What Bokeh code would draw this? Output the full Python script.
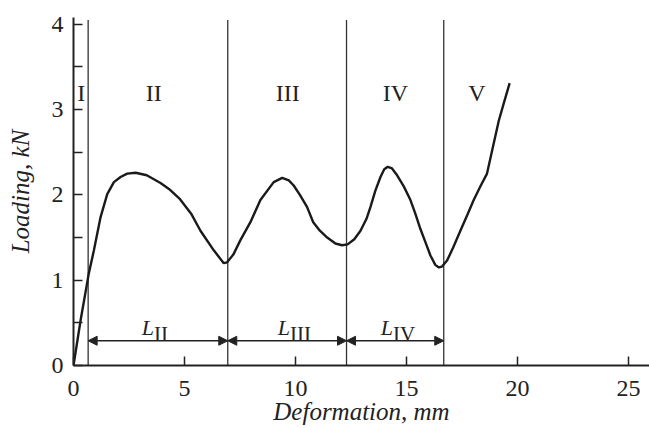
from bokeh.plotting import figure
from bokeh.models import Range1d, Label, Arrow, NormalHead, FixedTicker
from bokeh.embed import file_html
from bokeh.resources import INLINE

# Data
deformation = [0.0, 0.32, 0.69, 0.92, 1.22, 1.52, 1.82, 2.12, 2.42, 2.8, 3.3, 3.92,
               4.3, 4.8, 5.3, 5.72, 6.32, 6.77, 6.92, 7.2, 7.52, 7.97, 8.42, 9.02,
               9.4, 9.7, 9.92, 10.2, 10.52, 10.8, 11.1, 11.43, 11.8, 12.1, 12.35,
               12.65, 12.93, 13.2, 13.38, 13.6, 13.83, 14.0, 14.16, 14.35, 14.58,
               14.88, 15.18, 15.4, 15.63, 15.85, 16.08, 16.3, 16.46, 16.6, 16.83,
               17.1, 17.43, 17.75, 18.03, 18.35, 18.63, 18.86, 19.16, 19.38, 19.65]
loading = [0.0, 0.53, 1.08, 1.35, 1.74, 2.01, 2.15, 2.21, 2.25, 2.26, 2.23, 2.14,
           2.07, 1.95, 1.78, 1.58, 1.35, 1.2, 1.21, 1.3, 1.47, 1.68, 1.94, 2.15,
           2.2, 2.17, 2.11, 2.0, 1.86, 1.68, 1.58, 1.5, 1.43, 1.41, 1.42,
           1.48, 1.58, 1.72, 1.86, 2.05, 2.21, 2.3, 2.33, 2.31, 2.23,
           2.1, 1.94, 1.78, 1.6, 1.45, 1.29, 1.18, 1.15, 1.16, 1.23,
           1.38, 1.58, 1.77, 1.94, 2.11, 2.25, 2.52, 2.87, 3.07, 3.31]

boundaries = [0.66, 6.95, 12.3, 16.68]
stage_names = ["I", "II", "III", "IV", "V"]
stage_x = [0.35, 3.62, 9.65, 14.5, 18.18]
length_subs = ["II", "III", "IV"]
length_x = [3.63, 9.75, 14.39]
x_ticks = [0, 5, 10, 15, 20, 25]
y_ticks = [0, 1, 2, 3, 4]
y_minor = [0.5, 1.5, 2.5, 3.5]
x_title = "Deformation, mm"
y_title = "Loading, kN"

FONT = "'Liberation Serif', 'Times New Roman', serif"
FS = "24px"
INK = "#222222"

p = figure(width=649, height=428, output_backend="svg", toolbar_location=None,
           x_range=Range1d(0, 25.95), y_range=Range1d(0, 4.08),
           min_border_left=73, min_border_right=0, min_border_top=17,
           min_border_bottom=63)
p.grid.visible = False
p.outline_line_color = None
p.background_fill_color = "white"
p.border_fill_color = "white"

for ax in (p.xaxis[0], p.yaxis[0]):
    ax.axis_line_width = 2
    ax.axis_line_color = INK
    ax.major_tick_line_width = 1.5
    ax.major_tick_line_color = INK
    ax.minor_tick_line_width = 1.5
    ax.minor_tick_line_color = INK
    ax.major_tick_in = 9
    ax.major_tick_out = 0
    ax.minor_tick_in = 9
    ax.minor_tick_out = 0
    ax.major_label_text_font = FONT
    ax.major_label_text_font_size = FS
    ax.major_label_text_color = INK
    ax.axis_label_text_font = FONT
    ax.axis_label_text_font_size = "25px"
    ax.axis_label_text_font_style = "italic"
    ax.axis_label_text_color = INK

p.xaxis[0].ticker = FixedTicker(ticks=x_ticks)
p.yaxis[0].ticker = FixedTicker(ticks=y_ticks, minor_ticks=y_minor)
p.xaxis[0].major_label_standoff = 15
p.yaxis[0].major_label_standoff = 10
p.xaxis[0].axis_label = x_title
p.yaxis[0].axis_label = y_title
p.xaxis[0].axis_label_standoff = -1
p.yaxis[0].axis_label_standoff = 15

# Stage boundaries
for b in boundaries:
    p.line([b, b], [0, 4.05], line_color="#333333", line_width=1.3)

# Curve
p.line(deformation, loading, line_color="#1a1a1a", line_width=2.4)

# Stage labels
for name, sx in zip(stage_names, stage_x):
    p.add_layout(Label(x=sx, y=3.19, text=name, text_align="center",
                       text_baseline="alphabetic", text_font=FONT,
                       text_font_size=FS, text_color=INK))

# Double-headed length arrows
for a, b in zip(boundaries[:-1], boundaries[1:]):
    p.add_layout(Arrow(x_start=a, y_start=0.29, x_end=b, y_end=0.29,
                       line_color=INK, line_width=1.3,
                       start=NormalHead(size=9, fill_color=INK, line_color=INK, line_width=1),
                       end=NormalHead(size=9, fill_color=INK, line_color=INK, line_width=1)))

for sub, lx in zip(length_subs, length_x):
    p.add_layout(Label(x=lx, y=0.45, text="L", text_align="right",
                       text_baseline="alphabetic", text_font=FONT,
                       text_font_style="italic", text_font_size="22px",
                       text_color=INK))
    p.add_layout(Label(x=lx, y=0.375, text=sub, text_align="left",
                       text_baseline="alphabetic", text_font=FONT,
                       text_font_size="21px", text_color=INK))

open("out.html", "w").write(file_html(p, INLINE))
